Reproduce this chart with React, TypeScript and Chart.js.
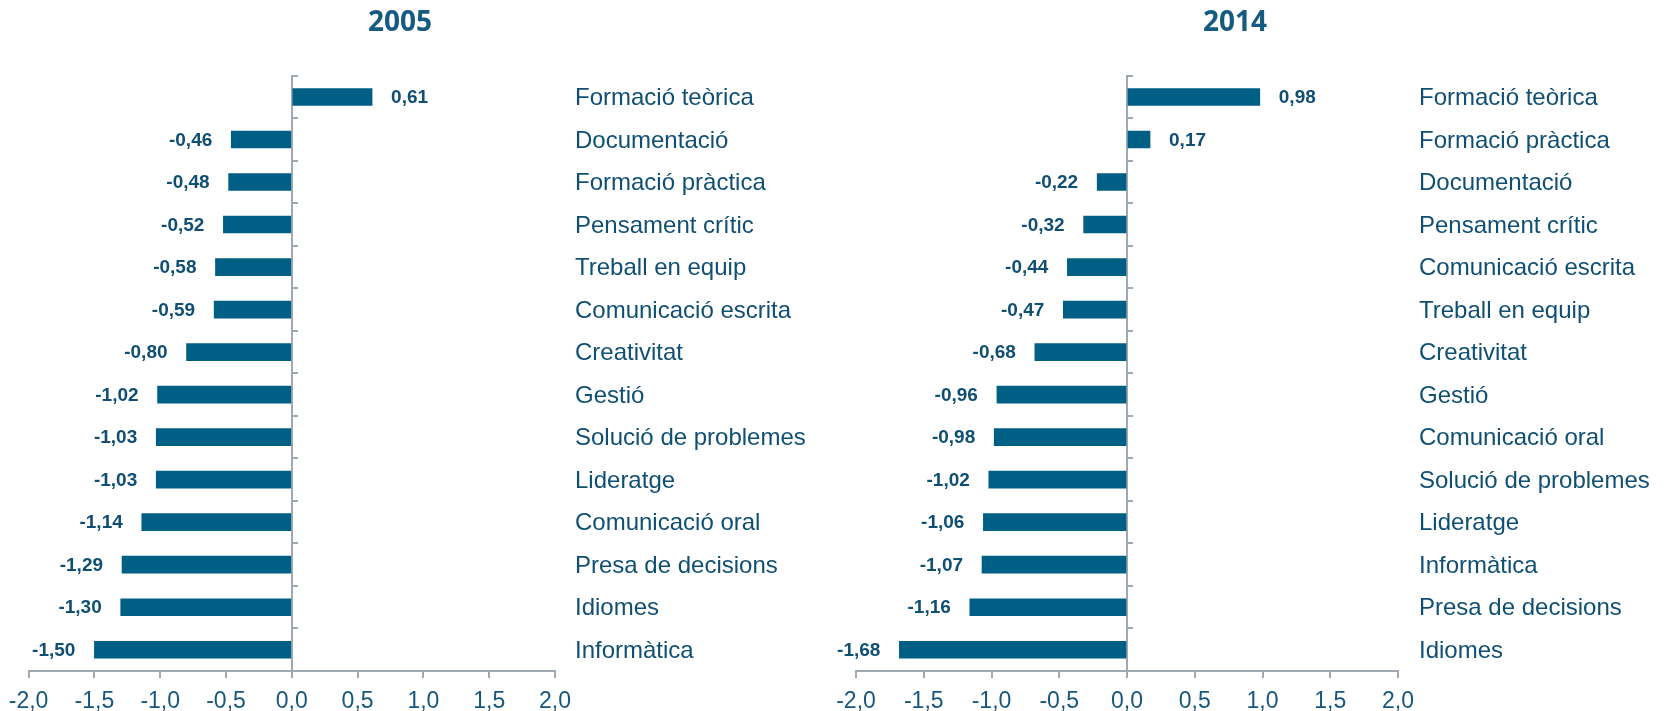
import React, { useEffect, useRef } from "react";
import { Chart, registerables } from "chart.js";

Chart.register(...registerables);

const labels2005 = [
  "Formació teòrica",
  "Documentació",
  "Formació pràctica",
  "Pensament crític",
  "Treball en equip",
  "Comunicació escrita",
  "Creativitat",
  "Gestió",
  "Solució de problemes",
  "Lideratge",
  "Comunicació oral",
  "Presa de decisions",
  "Idiomes",
  "Informàtica",
];
const values2005 = [0.61, -0.46, -0.48, -0.52, -0.58, -0.59, -0.8, -1.02, -1.03, -1.03, -1.14, -1.29, -1.3, -1.5];

const labels2014 = [
  "Formació teòrica",
  "Formació pràctica",
  "Documentació",
  "Pensament crític",
  "Comunicació escrita",
  "Treball en equip",
  "Creativitat",
  "Gestió",
  "Comunicació oral",
  "Solució de problemes",
  "Lideratge",
  "Informàtica",
  "Presa de decisions",
  "Idiomes",
];
const values2014 = [0.98, 0.17, -0.22, -0.32, -0.44, -0.47, -0.68, -0.96, -0.98, -1.02, -1.06, -1.07, -1.16, -1.68];

const xTicks = [-2, -1.5, -1, -0.5, 0, 0.5, 1, 1.5, 2];

const BAR = "#005f85";
const TEXT = "#0f4f74";
const TICK = "#17577e";
const AXIS = "#9ea9b4";
const FONT = "'Liberation Sans', Arial, sans-serif";

const fmt = (v: number, d: number) => v.toFixed(d).replace(".", ",");

const valueLabels = {
  id: "valueLabels",
  afterDatasetsDraw(chart: any) {
    const ctx = chart.ctx;
    const meta = chart.getDatasetMeta(0);
    const data = chart.data.datasets[0].data as number[];
    ctx.save();
    ctx.font = `bold 19px ${FONT}`;
    ctx.fillStyle = TEXT;
    ctx.textBaseline = "middle";
    meta.data.forEach((bar: any, i: number) => {
      const v = data[i];
      if (v >= 0) {
        ctx.textAlign = "left";
        ctx.fillText(fmt(v, 2), bar.x + 19, bar.y + 1);
      } else {
        ctx.textAlign = "right";
        ctx.fillText(fmt(v, 2), bar.x - 19, bar.y + 1);
      }
    });
    ctx.restore();
  },
};

type PanelProps = {
  title: string;
  labels: string[];
  values: number[];
  left: number;
  width: number;
  padLeft: number;
  labelAxisWidth: number;
  labelPad: number;
};

function Panel({ title, labels, values, left, width, padLeft, labelAxisWidth, labelPad }: PanelProps) {
  const ref = useRef<HTMLCanvasElement | null>(null);
  useEffect(() => {
    if (!ref.current) return;
    const chart = new Chart(ref.current, {
      type: "bar",
      data: {
        labels,
        datasets: [
          {
            data: values,
            backgroundColor: BAR,
            borderWidth: 0,
            barThickness: 17,
            yAxisID: "y",
            xAxisID: "x",
          },
        ],
      },
      options: {
        indexAxis: "y",
        responsive: false,
        animation: false,
        events: [],
        layout: { padding: 0 },
        plugins: {
          legend: { display: false },
          tooltip: { enabled: false },
          title: {
            display: true,
            text: title,
            color: "#155a80",
            font: { family: "'Open Sans', Arial, sans-serif", size: 28, weight: "bold" },
            padding: { top: 6.5, bottom: 35.6 },
          },
        },
        scales: {
          x: {
            type: "linear",
            position: "bottom",
            min: -2,
            max: 2,
            afterBuildTicks: (scale: any) => {
              scale.ticks = xTicks.map((v) => ({ value: v }));
            },
            afterFit: (scale: any) => {
              scale.height = 40;
              scale.paddingLeft = padLeft;
            },
            ticks: {
              color: TICK,
              font: { family: FONT, size: 23 },
              padding: 10,
              callback: (v: any) => fmt(Number(v), 1),
            },
            grid: {
              drawOnChartArea: false,
              drawTicks: true,
              tickLength: 7,
              color: AXIS,
              lineWidth: 2,
            },
            border: { display: true, color: AXIS, width: 2 },
          },
          y: {
            type: "category",
            position: { x: 0 } as any,
            offset: true,
            ticks: { display: false },
            grid: {
              offset: true,
              drawOnChartArea: false,
              drawTicks: true,
              tickLength: -7,
              color: AXIS,
              lineWidth: 2,
            },
            border: { display: true, color: AXIS, width: 2 },
          },
          yLabels: {
            type: "category",
            position: "right",
            offset: true,
            afterFit: (scale: any) => {
              scale.width = labelAxisWidth;
            },
            ticks: {
              color: TEXT,
              font: { family: FONT, size: 24 },
              padding: labelPad,
              labelOffset: 1.5,
              crossAlign: "near",
            },
            grid: { display: false, drawTicks: false },
            border: { display: false },
          },
        },
      },
      plugins: [valueLabels],
    });
    return () => chart.destroy();
  }, []);
  return (
    <canvas
      ref={ref}
      width={width}
      height={711}
      style={{ position: "absolute", left, top: 0, width, height: 711 }}
    />
  );
}

export default function App() {
  return (
    <div style={{ position: "fixed", left: 0, top: 0, width: 1667, height: 711, background: "#ffffff", overflow: "hidden" }}>
      <Panel
        title="2005"
        labels={labels2005}
        values={values2005}
        left={-8}
        width={816}
        padLeft={36.6}
        labelAxisWidth={253}
        labelPad={20}
      />
      <Panel
        title="2014"
        labels={labels2014}
        values={values2014}
        left={803}
        width={864}
        padLeft={53}
        labelAxisWidth={269}
        labelPad={21}
      />
    </div>
  );
}
